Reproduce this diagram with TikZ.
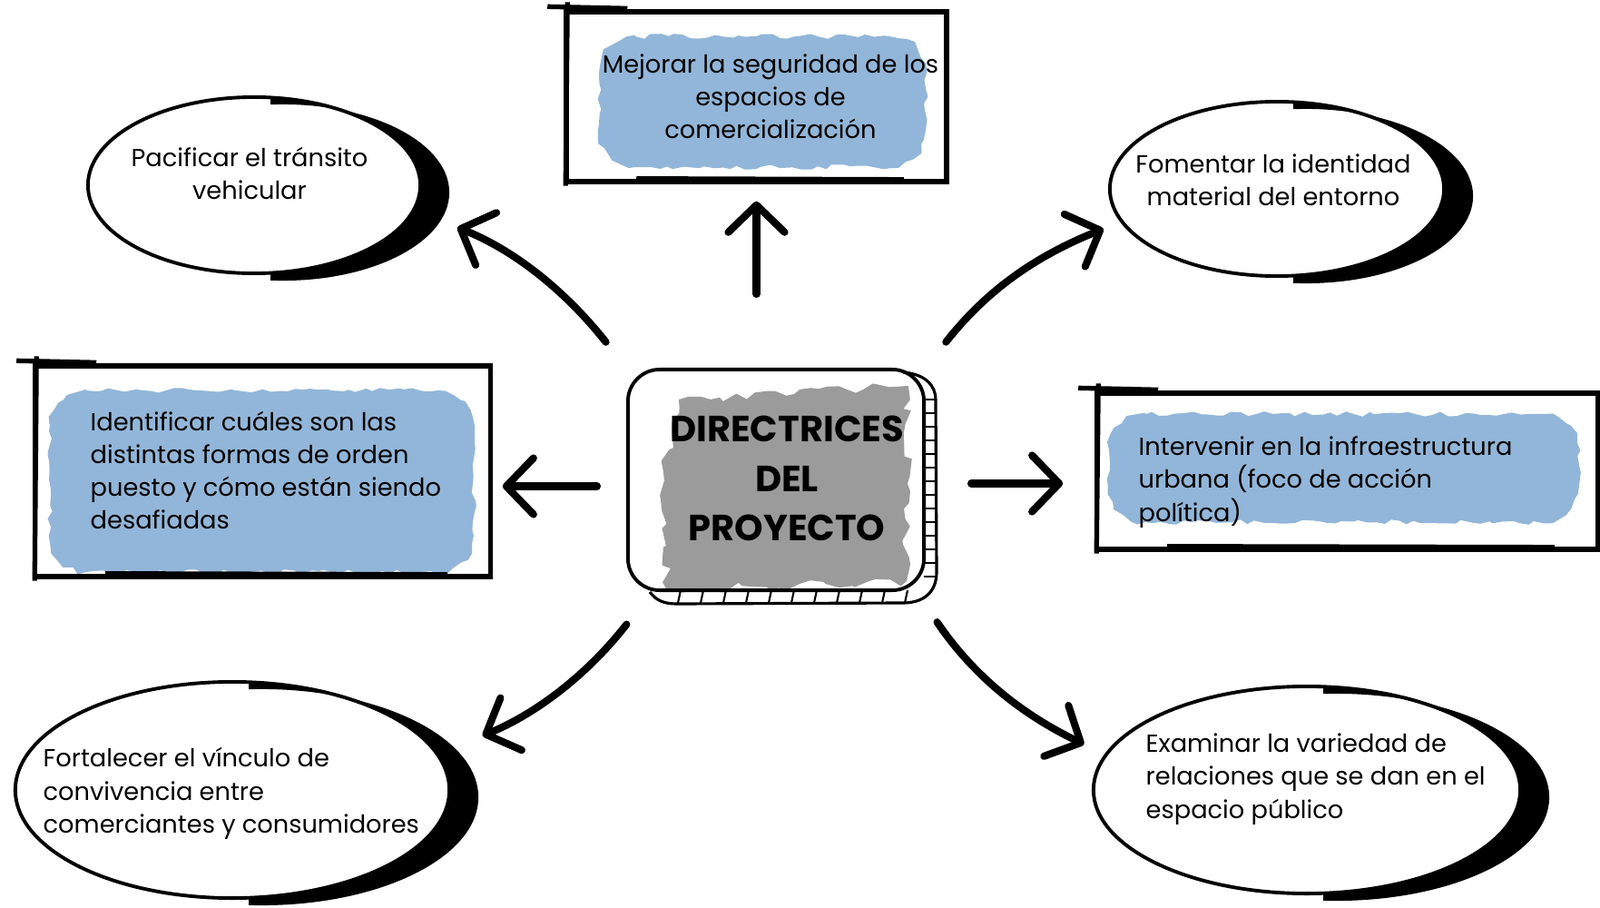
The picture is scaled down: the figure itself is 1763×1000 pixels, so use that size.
\documentclass[tikz,border=0pt]{standalone}
\usepackage{fontspec}
\setmainfont{Poppins}
\usetikzlibrary{arrows.meta,shapes.geometric,decorations.pathmorphing,calc}

\definecolor{brushblue}{RGB}{146,182,217}
\definecolor{patchgray}{RGB}{155,155,155}

% extra strokes that make a box look drawn by hand
\newcommand\roughbox[1]{%
  \draw[line width=1.5pt] ($(#1.north west)+(-18,3)$) -- ($(#1.north west)+(70,1)$);
  \draw[line width=1.5pt] ($(#1.north west)+(4,8)$) -- ($(#1.south west)+(2,-2)$);
  \draw[line width=1.5pt] ($(#1.south west)+(80,6)$) -- ($(#1.south east)+(-50,5)$);
}
% watercolour patch: left, top, right, bottom
\newcommand\brushpatch[4]{%
  \fill[brush] ({#1+40},#2) -- ({#3-40},#2) arc[start angle=90, end angle=0, radius=0.4cm]
    -- (#3,{#4+40}) arc[start angle=0, end angle=-90, radius=0.4cm]
    -- ({#1+40},#4) arc[start angle=270, end angle=180, radius=0.4cm]
    -- (#1,{#2-40}) arc[start angle=180, end angle=90, radius=0.4cm] -- cycle;
}

\tikzset{
  txt/.style={font=\fontsize{7.75}{10.3}\selectfont, inner sep=0pt},
  oval/.style={ellipse, draw, line width=1.1pt, inner sep=0pt},
  goalbox/.style={draw, line width=1.5pt, inner sep=0pt},
  brush/.style={fill=brushblue, decorate,
    decoration={random steps, segment length=2.5pt, amplitude=0.8pt}},
  arr/.style={line width=2.3pt, line cap=round,
    -{Straight Barb[length=0.3cm, width=0.62cm, round]}},
}

\begin{document}
\begin{tikzpicture}[x=0.01cm, y=0.01cm]
  \useasboundingbox (0,0) rectangle (1763,-1000);

  % watercolour patches
  \brushpatch{660}{-40}{1020}{-184}
  \brushpatch{55}{-430}{522}{-630}
  \brushpatch{1222}{-456}{1740}{-575}
  \fill[patchgray, decorate, decoration={random steps, segment length=3pt, amplitude=1.5pt}]
    (748,-440) -- (1001,-425) -- (999,-640) -- (735,-650) -- (731,-520) -- cycle;

  % centre
  \node[draw, line width=1.1pt, rounded corners=0.35cm,
        minimum width=3.26cm, minimum height=2.43cm] (dir) at (855,-528.5) {};
  \node[font=\bfseries\fontsize{11.4}{15.6}\selectfont, align=center, inner sep=0pt]
    (dirt) at (867,-527) {DIRECTRICES\\DEL\\PROYECTO};
  \draw[line width=0.9pt] (995,-410) .. controls (1020,-412) and (1031,-425) .. (1031,-440)
    -- (1032,-630) .. controls (1032,-652) and (1018,-664) .. (995,-664)
    -- (745,-665) .. controls (730,-665) and (722,-660) .. (716,-652);
  \foreach \y in {440,455,...,635}
    \draw[line width=0.6pt] (1018,-\y) -- (1031,-\y);
  \foreach \x in {750,775,...,1000}
    \draw[line width=0.6pt] (\x,-650) -- (\x-3,-664);

  % boxes
  \node[goalbox, minimum width=4.19cm, minimum height=1.87cm] (mejor) at (833.5,-106.5) {};
  \node[txt, align=center] (mejort) at (849,-106)
    {Mejorar la seguridad de los\\espacios de\\comercialización};
  \roughbox{mejor}

  \node[goalbox, minimum width=5.01cm, minimum height=2.32cm] (ident) at (289.5,-519) {};
  \node[txt, align=left, anchor=west] (identt) at (99,-518)
    {Identificar cuáles son las\\distintas formas de orden\\puesto y cómo están siendo\\desafiadas};
  \roughbox{ident}

  \node[goalbox, minimum width=5.51cm, minimum height=1.72cm] (interv) at (1484.5,-519) {};
  \node[txt, align=left, anchor=west] (intervt) at (1254,-531)
    {Intervenir en la infraestructura\\urbana (foco de acción\\política)};
  \roughbox{interv}

  % ovals
  \node[oval, minimum width=3.66cm, minimum height=1.94cm] (pacif) at (280,-204) {};
  \node[txt, align=center] (pacift) at (275,-191) {Pacificar el tránsito\\vehicular};
  \node[oval, minimum width=3.68cm, minimum height=1.92cm] (foment) at (1407,-208) {};
  \node[txt, align=center] (fomentt) at (1403,-198) {Fomentar la identidad\\material del entorno};
  \node[oval, minimum width=4.78cm, minimum height=2.38cm] (fortal) at (256,-870) {};
  \node[txt, align=left, anchor=west] (fortalt) at (47,-874)
    {Fortalecer el vínculo de\\convivencia entre\\comerciantes y consumidores};
  \node[oval, minimum width=4.7cm, minimum height=2.28cm] (examin) at (1440,-870) {};
  \node[txt, align=left, anchor=west] (examint) at (1262,-858)
    {Examinar la variedad de\\relaciones que se dan en el\\espacio público};

  % thick brush stroke on the right of each oval
  \foreach \n/\rx/\ry in {pacif/1.83/0.97, foment/1.84/0.96, fortal/2.39/1.19, examin/2.35/1.14} {
    \begin{scope}
      \clip ($(\n.north)+(18,20)$) rectangle ($(\n.south -| \n.east)+(60,-30)$);
      \fill[even odd rule] (\n.center) ellipse[x radius=\rx cm, y radius=\ry cm]
        ($(\n.center)+(32,-8)$) ellipse[x radius=\rx cm, y radius=\ry cm];
    \end{scope}
  }

  % arrows
  \draw[arr, shorten <=0.81cm, shorten >=0.19cm] (dir.north -| mejor.south) -- (mejor.south);
  \draw[arr, shorten <=0.32cm, shorten >=0.11cm] ([yshift=-0.07cm]dir.west) -- ([yshift=-0.07cm]dir.west -| ident.east);
  \draw[arr, shorten <=0.5cm, shorten >=0.35cm] ([yshift=-0.04cm]dir.east) -- ([yshift=-0.04cm]dir.east -| interv.west);
  \draw[arr, shorten <=0.36cm, shorten >=0.5cm] (dir.north west) to[bend right=15] (pacif.-9);
  \draw[arr, shorten <=0.36cm, shorten >=0.2cm] (dir.north east) to[bend left=15] (foment.192);
  \draw[arr, shorten <=0.45cm, shorten >=0.52cm] ([xshift=0.28cm]dir.south west) to[bend left=15] (fortal.10);
  \draw[arr, shorten <=0.4cm, shorten >=0.25cm] ([xshift=-0.1cm]dir.south east) to[bend right=15] (examin.170);
\end{tikzpicture}
\end{document}
